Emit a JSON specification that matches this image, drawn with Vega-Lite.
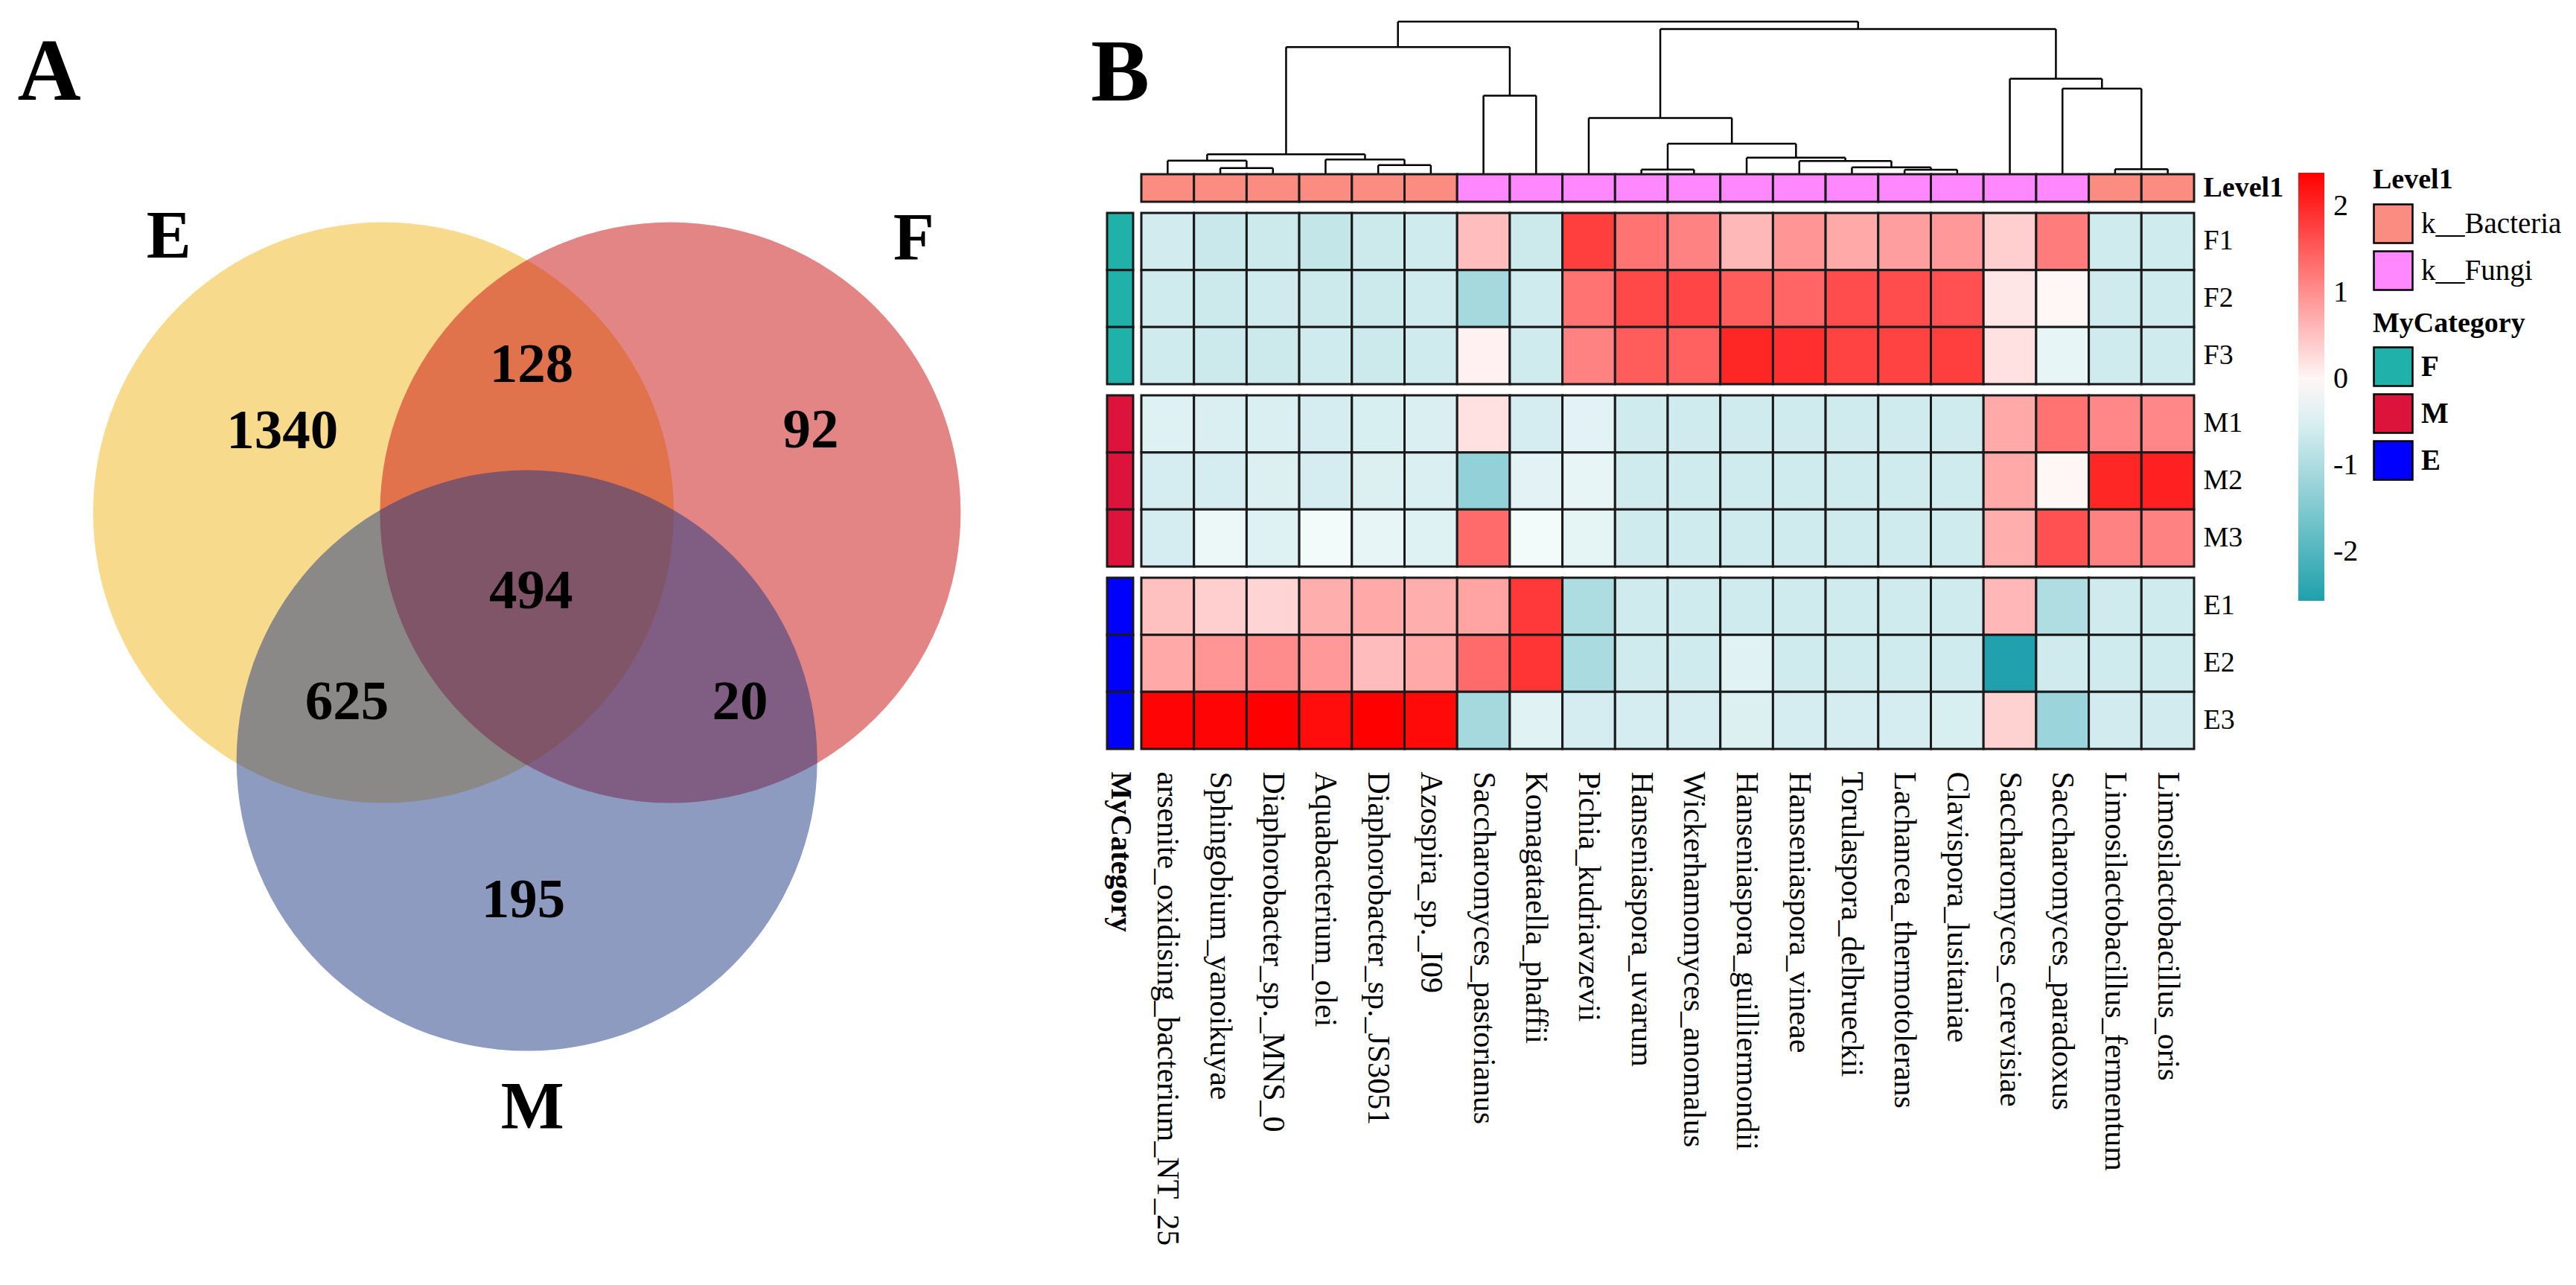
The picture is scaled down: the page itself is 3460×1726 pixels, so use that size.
{
  "$schema": "https://vega.github.io/schema/vega-lite/v6.json",
  "padding": 0,
  "background": "white",
  "bounds": "flush",
  "spacing": 0,
  "datasets": {
    "heat": [
      {"species": "arsenite_oxidising_bacterium_NT_25", "level1": "k__Bacteria", "F1": -0.6, "F2": -0.62, "F3": -0.62, "M1": -0.46, "M2": -0.55, "M3": -0.55, "E1": 0.52, "E2": 0.75, "E3": 2.35},
      {"species": "Sphingobium_yanoikuyae", "level1": "k__Bacteria", "F1": -0.7, "F2": -0.65, "F3": -0.65, "M1": -0.5, "M2": -0.55, "M3": -0.3, "E1": 0.38, "E2": 0.94, "E3": 2.35},
      {"species": "Diaphorobacter_sp._MNS_0", "level1": "k__Bacteria", "F1": -0.65, "F2": -0.62, "F3": -0.65, "M1": -0.5, "M2": -0.48, "M3": -0.46, "E1": 0.33, "E2": 1.03, "E3": 2.39},
      {"species": "Aquabacterium_olei", "level1": "k__Bacteria", "F1": -0.75, "F2": -0.65, "F3": -0.62, "M1": -0.55, "M2": -0.55, "M3": -0.23, "E1": 0.7, "E2": 0.9, "E3": 2.26},
      {"species": "Diaphorobacter_sp._JS3051", "level1": "k__Bacteria", "F1": -0.65, "F2": -0.65, "F3": -0.65, "M1": -0.52, "M2": -0.48, "M3": -0.35, "E1": 0.75, "E2": 0.56, "E3": 2.39},
      {"species": "Azospira_sp._I09", "level1": "k__Bacteria", "F1": -0.62, "F2": -0.62, "F3": -0.62, "M1": -0.5, "M2": -0.5, "M3": -0.46, "E1": 0.7, "E2": 0.75, "E3": 2.3},
      {"species": "Saccharomyces_pastorianus", "level1": "k__Fungi", "F1": 0.55, "F2": -1.09, "F3": 0.05, "M1": 0.2, "M2": -1.3, "M3": 1.36, "E1": 0.8, "E2": 1.36, "E3": -1.07},
      {"species": "Komagataella_phaffii", "level1": "k__Fungi", "F1": -0.65, "F2": -0.62, "F3": -0.62, "M1": -0.55, "M2": -0.4, "M3": -0.23, "E1": 1.84, "E2": 1.88, "E3": -0.43},
      {"species": "Pichia_kudriavzevii", "level1": "k__Fungi", "F1": 1.79, "F2": 1.27, "F3": 1.13, "M1": -0.4, "M2": -0.35, "M3": -0.38, "E1": -1.0, "E2": -1.03, "E3": -0.55},
      {"species": "Hanseniaspora_uvarum", "level1": "k__Fungi", "F1": 1.27, "F2": 1.69, "F3": 1.5, "M1": -0.62, "M2": -0.62, "M3": -0.62, "E1": -0.62, "E2": -0.62, "E3": -0.55},
      {"species": "Wickerhamomyces_anomalus", "level1": "k__Fungi", "F1": 1.13, "F2": 1.72, "F3": 1.46, "M1": -0.62, "M2": -0.62, "M3": -0.62, "E1": -0.62, "E2": -0.62, "E3": -0.55},
      {"species": "Hanseniaspora_guilliermondii", "level1": "k__Fungi", "F1": 0.6, "F2": 1.5, "F3": 2.02, "M1": -0.62, "M2": -0.62, "M3": -0.62, "E1": -0.62, "E2": -0.43, "E3": -0.48},
      {"species": "Hanseniaspora_vineae", "level1": "k__Fungi", "F1": 0.94, "F2": 1.41, "F3": 1.93, "M1": -0.62, "M2": -0.62, "M3": -0.62, "E1": -0.62, "E2": -0.62, "E3": -0.55},
      {"species": "Torulaspora_delbrueckii", "level1": "k__Fungi", "F1": 0.75, "F2": 1.65, "F3": 1.74, "M1": -0.62, "M2": -0.62, "M3": -0.62, "E1": -0.62, "E2": -0.62, "E3": -0.55},
      {"species": "Lachancea_thermotolerans", "level1": "k__Fungi", "F1": 0.85, "F2": 1.65, "F3": 1.74, "M1": -0.62, "M2": -0.62, "M3": -0.62, "E1": -0.62, "E2": -0.62, "E3": -0.55},
      {"species": "Clavispora_lusitaniae", "level1": "k__Fungi", "F1": 0.9, "F2": 1.6, "F3": 1.79, "M1": -0.62, "M2": -0.62, "M3": -0.62, "E1": -0.62, "E2": -0.62, "E3": -0.52},
      {"species": "Saccharomyces_cerevisiae", "level1": "k__Fungi", "F1": 0.38, "F2": 0.15, "F3": 0.2, "M1": 0.75, "M2": 0.75, "M3": 0.7, "E1": 0.61, "E2": -2.55, "E3": 0.35},
      {"species": "Saccharomyces_paradoxus", "level1": "k__Fungi", "F1": 1.18, "F2": 0.0, "F3": -0.35, "M1": 1.27, "M2": 0.0, "M3": 1.6, "E1": -0.98, "E2": -0.62, "E3": -1.2},
      {"species": "Limosilactobacillus_fermentum", "level1": "k__Bacteria", "F1": -0.62, "F2": -0.62, "F3": -0.62, "M1": 1.08, "M2": 2.02, "M3": 1.13, "E1": -0.62, "E2": -0.62, "E3": -0.6},
      {"species": "Limosilactobacillus_oris", "level1": "k__Bacteria", "F1": -0.62, "F2": -0.62, "F3": -0.62, "M1": 1.08, "M2": 2.07, "M3": 1.13, "E1": -0.62, "E2": -0.62, "E3": -0.6}
    ],
    "cats": [
      {"sample": "F1", "cat": "F"}, {"sample": "F2", "cat": "F"}, {"sample": "F3", "cat": "F"},
      {"sample": "M1", "cat": "M"}, {"sample": "M2", "cat": "M"}, {"sample": "M3", "cat": "M"},
      {"sample": "E1", "cat": "E"}, {"sample": "E2", "cat": "E"}, {"sample": "E3", "cat": "E"}
    ],
    "dendro": [
      {"xl": 1.5, "hl": 0, "xr": 2.5, "hr": 0, "h": 0.36},
      {"xl": 0.5, "hl": 0, "xr": 2.0, "hr": 0.36, "h": 0.85},
      {"xl": 4.5, "hl": 0, "xr": 5.5, "hr": 0, "h": 0.55},
      {"xl": 3.5, "hl": 0, "xr": 5.0, "hr": 0.55, "h": 0.92},
      {"xl": 1.25, "hl": 0.85, "xr": 4.25, "hr": 0.92, "h": 1.26},
      {"xl": 6.5, "hl": 0, "xr": 7.5, "hr": 0, "h": 5.13},
      {"xl": 2.75, "hl": 1.26, "xr": 7.0, "hr": 5.13, "h": 8.32},
      {"xl": 9.5, "hl": 0, "xr": 10.5, "hr": 0, "h": 0.26},
      {"xl": 14.5, "hl": 0, "xr": 15.5, "hr": 0, "h": 0.25},
      {"xl": 13.5, "hl": 0, "xr": 15.0, "hr": 0.25, "h": 0.41},
      {"xl": 12.5, "hl": 0, "xr": 14.25, "hr": 0.41, "h": 0.82},
      {"xl": 11.5, "hl": 0, "xr": 13.375, "hr": 0.82, "h": 1.04},
      {"xl": 10.0, "hl": 0.26, "xr": 12.4375, "hr": 1.04, "h": 1.96},
      {"xl": 8.5, "hl": 0, "xr": 11.21875, "hr": 1.96, "h": 3.66},
      {"xl": 18.5, "hl": 0, "xr": 19.5, "hr": 0, "h": 0.29},
      {"xl": 17.5, "hl": 0, "xr": 19.0, "hr": 0.29, "h": 5.59},
      {"xl": 16.5, "hl": 0, "xr": 18.25, "hr": 5.59, "h": 6.24},
      {"xl": 9.859, "hl": 3.66, "xr": 17.375, "hr": 6.24, "h": 9.51},
      {"xl": 4.875, "hl": 8.32, "xr": 13.617, "hr": 9.51, "h": 10.0}
    ],
    "sets": [
      {"set": "E", "cx": -0.494, "cy": 0.285},
      {"set": "F", "cx": 0.494, "cy": 0.285},
      {"set": "M", "cx": 0.0, "cy": -0.569}
    ],
    "counts": [
      {"n": "1340", "x": -0.842, "y": 0.567},
      {"n": "128", "x": 0.016, "y": 0.794},
      {"n": "92", "x": 0.978, "y": 0.568},
      {"n": "494", "x": 0.014, "y": 0.015},
      {"n": "625", "x": -0.62, "y": -0.367},
      {"n": "20", "x": 0.734, "y": -0.367},
      {"n": "195", "x": -0.012, "y": -1.05}
    ],
    "setnames": [
      {"set": "E", "x": -1.233, "y": 1.233},
      {"set": "F", "x": 1.332, "y": 1.225},
      {"set": "M", "x": 0.019, "y": -1.767}
    ],
    "panel": [
      {"label": "A", "x": -1.645, "y": 1.797}
    ]
  },
  "hconcat": [
    {
      "width": 1487,
      "height": 1726,
      "layer": [
        {
          "data": {"name": "sets"},
          "mark": {"type": "point", "shape": "circle", "filled": true, "opacity": 0.5, "size": 608400, "strokeWidth": 0},
          "encoding": {
            "x": {"field": "cx", "type": "quantitative", "scale": {"domain": [-1.8146, 1.9982], "nice": false, "zero": false}, "axis": null},
            "y": {"field": "cy", "type": "quantitative", "scale": {"domain": [-2.3751, 2.0505], "nice": false, "zero": false}, "axis": null},
            "color": {"field": "set", "type": "nominal", "scale": {"domain": ["E", "F", "M"], "range": ["#F1B51B", "#C70B0B", "#1D3781"]}, "legend": null}
          }
        },
        {
          "data": {"name": "counts"},
          "mark": {"type": "text", "fontSize": 75, "fontWeight": "bold", "font": "Liberation Serif", "baseline": "middle", "align": "center", "color": "black"},
          "encoding": {
            "x": {"field": "x", "type": "quantitative"},
            "y": {"field": "y", "type": "quantitative"},
            "text": {"field": "n"}
          }
        },
        {
          "data": {"name": "setnames"},
          "mark": {"type": "text", "fontSize": 90, "fontWeight": "bold", "font": "Liberation Serif", "baseline": "middle", "align": "center", "color": "black"},
          "encoding": {
            "x": {"field": "x", "type": "quantitative"},
            "y": {"field": "y", "type": "quantitative"},
            "text": {"field": "set"}
          }
        },
        {
          "data": {"name": "panel"},
          "mark": {"type": "text", "fontSize": 118, "fontWeight": "bold", "font": "Liberation Serif", "baseline": "middle", "align": "center", "color": "black"},
          "encoding": {
            "x": {"field": "x", "type": "quantitative"},
            "y": {"field": "y", "type": "quantitative"},
            "text": {"field": "label"}
          }
        }
      ]
    },
    {
      "columns": 2,
      "align": "each",
      "bounds": "flush",
      "spacing": {"row": 15, "column": 11},
      "concat": [
        {
          "width": 35,
          "height": 219,
          "data": {"values": [{"label": "B"}]},
          "mark": {"type": "text", "fontSize": 118, "fontWeight": "bold", "font": "Liberation Serif", "baseline": "middle", "align": "center", "color": "black", "dy": -10},
          "encoding": {"text": {"field": "label"}}
        },
        {
          "width": 1414,
          "height": 219,
          "data": {"name": "dendro"},
          "layer": [
            {
              "mark": {"type": "rule", "strokeWidth": 2.5, "color": "black"},
              "encoding": {
                "x": {"field": "xl", "type": "quantitative", "scale": {"domain": [0, 20], "nice": false, "zero": false}, "axis": null},
                "x2": {"field": "xr"},
                "y": {"field": "h", "type": "quantitative", "scale": {"domain": [0.69, 11.42], "nice": false, "zero": false}, "axis": null}
              }
            },
            {
              "mark": {"type": "rule", "strokeWidth": 2.5, "color": "black"},
              "encoding": {
                "x": {"field": "xl", "type": "quantitative"},
                "y": {"field": "hl", "type": "quantitative"},
                "y2": {"field": "h"}
              }
            },
            {
              "mark": {"type": "rule", "strokeWidth": 2.5, "color": "black"},
              "encoding": {
                "x": {"field": "xr", "type": "quantitative"},
                "y": {"field": "hr", "type": "quantitative"},
                "y2": {"field": "h"}
              }
            }
          ]
        },
        {
          "width": 35,
          "height": 37,
          "data": {"values": [{"label": ""}]},
          "mark": {"type": "text"},
          "encoding": {"text": {"field": "label"}}
        },
        {
          "width": 1414,
          "height": 37,
          "data": {"name": "heat"},
          "mark": {"type": "rect", "stroke": "#1a1a1a", "strokeWidth": 3},
          "encoding": {
            "x": {"field": "species", "type": "nominal", "sort": ["arsenite_oxidising_bacterium_NT_25", "Sphingobium_yanoikuyae", "Diaphorobacter_sp._MNS_0", "Aquabacterium_olei", "Diaphorobacter_sp._JS3051", "Azospira_sp._I09", "Saccharomyces_pastorianus", "Komagataella_phaffii", "Pichia_kudriavzevii", "Hanseniaspora_uvarum", "Wickerhamomyces_anomalus", "Hanseniaspora_guilliermondii", "Hanseniaspora_vineae", "Torulaspora_delbrueckii", "Lachancea_thermotolerans", "Clavispora_lusitaniae", "Saccharomyces_cerevisiae", "Saccharomyces_paradoxus", "Limosilactobacillus_fermentum", "Limosilactobacillus_oris"], "scale": {"paddingInner": 0, "paddingOuter": 0}, "axis": null},
            "y": {"datum": "Level1", "type": "nominal", "title": null, "scale": {"paddingInner": 0, "paddingOuter": 0}, "axis": {"orient": "right", "labelFontSize": 38, "labelFontWeight": "bold", "labelPadding": 12}},
            "color": {"field": "level1", "type": "nominal", "scale": {"domain": ["k__Bacteria", "k__Fungi"], "range": ["#FA8C82", "#FF88FF"]},
              "legend": {"orient": "none", "legendX": 1654, "legendY": -11, "title": "Level1", "titleFontSize": 38, "titleFontWeight": "bold", "titlePadding": 12, "titleLimit": 1000, "symbolType": "square", "symbolSize": 2704, "symbolStrokeColor": "black", "symbolStrokeWidth": 2.5, "symbolOpacity": 1, "labelFontSize": 39, "labelOffset": 10, "rowPadding": 0}}
          }
        },
        {
          "width": 35,
          "height": 230,
          "data": {"name": "cats"},
          "transform": [{"filter": {"field": "cat", "equal": "F"}}],
          "mark": {"type": "rect", "stroke": "#1a1a1a", "strokeWidth": 3},
          "encoding": {
            "x": {"datum": "MyCategory", "type": "nominal", "scale": {"paddingInner": 0, "paddingOuter": 0}, "axis": null},
            "y": {"field": "sample", "type": "nominal", "sort": ["F1", "F2", "F3"], "scale": {"paddingInner": 0, "paddingOuter": 0}, "axis": null},
            "color": {"field": "cat", "type": "nominal", "scale": {"domain": ["F", "M", "E"], "range": ["#20B2AA", "#DC143C", "#0000FF"]},
              "legend": {"orient": "none", "legendX": 1700, "legendY": 130, "title": "MyCategory", "titleFontSize": 38, "titleFontWeight": "bold", "titlePadding": 11, "titleLimit": 1000, "symbolType": "square", "symbolSize": 2704, "symbolStrokeColor": "black", "symbolStrokeWidth": 2.5, "symbolOpacity": 1, "labelFontSize": 39, "labelFontWeight": "bold", "labelOffset": 10, "rowPadding": 0}}
          }
        },
        {
          "width": 1414,
          "height": 230,
          "data": {"name": "heat"},
          "transform": [{"fold": ["F1", "F2", "F3", "M1", "M2", "M3", "E1", "E2", "E3"], "as": ["sample", "value"]}, {"filter": {"field": "sample", "oneOf": ["F1", "F2", "F3"]}}],
          "mark": {"type": "rect", "stroke": "#1a1a1a", "strokeWidth": 3},
          "encoding": {
            "x": {"field": "species", "type": "nominal", "sort": ["arsenite_oxidising_bacterium_NT_25", "Sphingobium_yanoikuyae", "Diaphorobacter_sp._MNS_0", "Aquabacterium_olei", "Diaphorobacter_sp._JS3051", "Azospira_sp._I09", "Saccharomyces_pastorianus", "Komagataella_phaffii", "Pichia_kudriavzevii", "Hanseniaspora_uvarum", "Wickerhamomyces_anomalus", "Hanseniaspora_guilliermondii", "Hanseniaspora_vineae", "Torulaspora_delbrueckii", "Lachancea_thermotolerans", "Clavispora_lusitaniae", "Saccharomyces_cerevisiae", "Saccharomyces_paradoxus", "Limosilactobacillus_fermentum", "Limosilactobacillus_oris"], "scale": {"paddingInner": 0, "paddingOuter": 0}, "axis": null},
            "y": {"field": "sample", "type": "nominal", "sort": ["F1", "F2", "F3"], "title": null, "scale": {"paddingInner": 0, "paddingOuter": 0}, "axis": {"orient": "right", "labelFontSize": 38, "labelPadding": 12, "labelOverlap": false}},
            "color": {"field": "value", "type": "quantitative", "scale": {"domain": [-2.57, -0.09, 2.39], "range": ["#1FA0AC", "#FFFFFF", "#FF0000"], "interpolate": "rgb"},
              "legend": {"orient": "none", "legendX": 1554, "legendY": -54, "direction": "vertical", "title": null, "gradientLength": 575, "gradientThickness": 35, "gradientStrokeWidth": 0, "labelFontSize": 40, "labelOffset": 12, "values": [-2, -1, 0, 1, 2], "labelExpr": "datum.value < 0 ? '-' + abs(datum.value) : '' + datum.value"}}
          }
        },
        {
          "width": 35,
          "height": 230,
          "data": {"name": "cats"},
          "transform": [{"filter": {"field": "cat", "equal": "M"}}],
          "mark": {"type": "rect", "stroke": "#1a1a1a", "strokeWidth": 3},
          "encoding": {
            "x": {"datum": "MyCategory", "type": "nominal", "scale": {"paddingInner": 0, "paddingOuter": 0}, "axis": null},
            "y": {"field": "sample", "type": "nominal", "sort": ["M1", "M2", "M3"], "scale": {"paddingInner": 0, "paddingOuter": 0}, "axis": null},
            "color": {"field": "cat", "type": "nominal", "scale": {"domain": ["F", "M", "E"], "range": ["#20B2AA", "#DC143C", "#0000FF"]}, "legend": null}
          }
        },
        {
          "width": 1414,
          "height": 230,
          "data": {"name": "heat"},
          "transform": [{"fold": ["F1", "F2", "F3", "M1", "M2", "M3", "E1", "E2", "E3"], "as": ["sample", "value"]}, {"filter": {"field": "sample", "oneOf": ["M1", "M2", "M3"]}}],
          "mark": {"type": "rect", "stroke": "#1a1a1a", "strokeWidth": 3},
          "encoding": {
            "x": {"field": "species", "type": "nominal", "sort": ["arsenite_oxidising_bacterium_NT_25", "Sphingobium_yanoikuyae", "Diaphorobacter_sp._MNS_0", "Aquabacterium_olei", "Diaphorobacter_sp._JS3051", "Azospira_sp._I09", "Saccharomyces_pastorianus", "Komagataella_phaffii", "Pichia_kudriavzevii", "Hanseniaspora_uvarum", "Wickerhamomyces_anomalus", "Hanseniaspora_guilliermondii", "Hanseniaspora_vineae", "Torulaspora_delbrueckii", "Lachancea_thermotolerans", "Clavispora_lusitaniae", "Saccharomyces_cerevisiae", "Saccharomyces_paradoxus", "Limosilactobacillus_fermentum", "Limosilactobacillus_oris"], "scale": {"paddingInner": 0, "paddingOuter": 0}, "axis": null},
            "y": {"field": "sample", "type": "nominal", "sort": ["M1", "M2", "M3"], "title": null, "scale": {"paddingInner": 0, "paddingOuter": 0}, "axis": {"orient": "right", "labelFontSize": 38, "labelPadding": 12, "labelOverlap": false}},
            "color": {"field": "value", "type": "quantitative", "scale": {"domain": [-2.57, -0.09, 2.39], "range": ["#1FA0AC", "#FFFFFF", "#FF0000"], "interpolate": "rgb"}, "legend": null}
          }
        },
        {
          "width": 35,
          "height": 230,
          "data": {"name": "cats"},
          "transform": [{"filter": {"field": "cat", "equal": "E"}}],
          "mark": {"type": "rect", "stroke": "#1a1a1a", "strokeWidth": 3},
          "encoding": {
            "x": {"datum": "MyCategory", "type": "nominal", "title": null, "scale": {"paddingInner": 0, "paddingOuter": 0}, "axis": {"orient": "bottom", "labelAngle": 90, "labelAlign": "left", "labelBaseline": "middle", "labelFontSize": 40, "labelFontWeight": "bold", "labelPadding": 30}},
            "y": {"field": "sample", "type": "nominal", "sort": ["E1", "E2", "E3"], "scale": {"paddingInner": 0, "paddingOuter": 0}, "axis": null},
            "color": {"field": "cat", "type": "nominal", "scale": {"domain": ["F", "M", "E"], "range": ["#20B2AA", "#DC143C", "#0000FF"]}, "legend": null}
          }
        },
        {
          "width": 1414,
          "height": 230,
          "data": {"name": "heat"},
          "transform": [{"fold": ["F1", "F2", "F3", "M1", "M2", "M3", "E1", "E2", "E3"], "as": ["sample", "value"]}, {"filter": {"field": "sample", "oneOf": ["E1", "E2", "E3"]}}],
          "mark": {"type": "rect", "stroke": "#1a1a1a", "strokeWidth": 3},
          "encoding": {
            "x": {"field": "species", "type": "nominal", "sort": ["arsenite_oxidising_bacterium_NT_25", "Sphingobium_yanoikuyae", "Diaphorobacter_sp._MNS_0", "Aquabacterium_olei", "Diaphorobacter_sp._JS3051", "Azospira_sp._I09", "Saccharomyces_pastorianus", "Komagataella_phaffii", "Pichia_kudriavzevii", "Hanseniaspora_uvarum", "Wickerhamomyces_anomalus", "Hanseniaspora_guilliermondii", "Hanseniaspora_vineae", "Torulaspora_delbrueckii", "Lachancea_thermotolerans", "Clavispora_lusitaniae", "Saccharomyces_cerevisiae", "Saccharomyces_paradoxus", "Limosilactobacillus_fermentum", "Limosilactobacillus_oris"], "title": null, "scale": {"paddingInner": 0, "paddingOuter": 0}, "axis": {"orient": "bottom", "labelAngle": 90, "labelAlign": "left", "labelBaseline": "middle", "labelFontSize": 42, "labelPadding": 30, "labelOverlap": false, "labelLimit": 2000}},
            "y": {"field": "sample", "type": "nominal", "sort": ["E1", "E2", "E3"], "title": null, "scale": {"paddingInner": 0, "paddingOuter": 0}, "axis": {"orient": "right", "labelFontSize": 38, "labelPadding": 12, "labelOverlap": false}},
            "color": {"field": "value", "type": "quantitative", "scale": {"domain": [-2.57, -0.09, 2.39], "range": ["#1FA0AC", "#FFFFFF", "#FF0000"], "interpolate": "rgb"}, "legend": null}
          }
        }
      ]
    }
  ],
  "config": {
    "view": {"stroke": null},
    "font": "Liberation Serif",
    "axis": {"grid": false, "ticks": false, "domain": false, "labelFont": "Liberation Serif", "labelColor": "black", "labelLimit": 2000},
    "legend": {"labelFont": "Liberation Serif", "titleFont": "Liberation Serif", "labelColor": "black", "titleColor": "black", "labelLimit": 1000}
  }
}
